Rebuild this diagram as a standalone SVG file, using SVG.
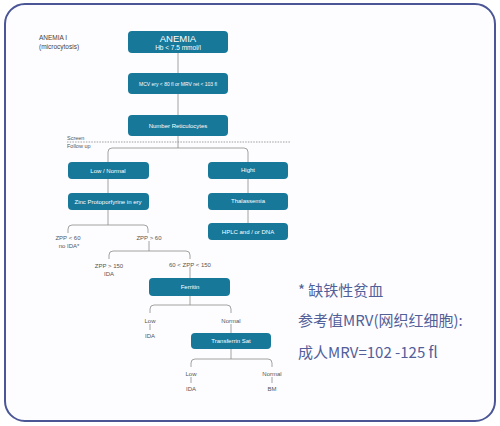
<svg xmlns="http://www.w3.org/2000/svg" width="500" height="426" viewBox="0 0 500 426">
<style>
.nd{fill:#17789a;}
.nt{font-family:"Liberation Sans",Arial,sans-serif;fill:#ffffff;font-size:6px;text-anchor:middle;}
.lb{font-family:"Liberation Sans",Arial,sans-serif;fill:#555555;font-size:6px;text-anchor:middle;}
.ln{fill:none;stroke:#8a8a8a;stroke-width:0.8;}
.cn{font-family:"Noto Sans CJK SC","Noto Sans",sans-serif;fill:#52609a;font-size:15px;}
</style>
<rect x="0" y="0" width="500" height="426" fill="#ffffff"/>
<rect x="5" y="4" width="490" height="417" rx="20" ry="20" fill="#fdfdff" stroke="#4a5696" stroke-width="2"/>

<text x="39" y="40" font-family="Liberation Sans,Arial,sans-serif" font-size="6.5" fill="#444">ANEMIA I</text>
<text x="39" y="49" font-family="Liberation Sans,Arial,sans-serif" font-size="6.5" fill="#444">(microcytosis)</text>

<g id="connectors">
<line class="ln" x1="178" y1="53" x2="178" y2="115"/>
<line x1="67" y1="142" x2="290" y2="142" stroke="#777" stroke-width="0.7" stroke-dasharray="1.5,1.2"/>
<line class="ln" x1="178" y1="136" x2="178" y2="148"/>
<path class="ln" d="M108,162 V152 Q108,148 112,148 H244 Q248,148 248,152 V162"/>
<line class="ln" x1="108" y1="179" x2="108" y2="193"/>
<line class="ln" x1="248" y1="179" x2="248" y2="223"/>
<line class="ln" x1="108" y1="210" x2="108" y2="225"/>
<path class="ln" d="M68,233 V229 Q68,225 72,225 H144 Q148,225 148,229 V233"/>
<line class="ln" x1="149" y1="241" x2="149" y2="251"/>
<path class="ln" d="M109,259 V255 Q109,251 113,251 H186 Q190,251 190,255 V259"/>
<line class="ln" x1="190" y1="267" x2="190" y2="278"/>
<line class="ln" x1="190" y1="296" x2="190" y2="305"/>
<path class="ln" d="M150,313 V309 Q150,305 154,305 H227 Q231,305 231,309 V313"/>
<line class="ln" x1="150" y1="324" x2="150" y2="330"/>
<line class="ln" x1="231" y1="324" x2="231" y2="333"/>
<line class="ln" x1="231" y1="349" x2="231" y2="359"/>
<path class="ln" d="M191,367 V363 Q191,359 195,359 H268 Q272,359 272,363 V367"/>
<line class="ln" x1="191" y1="377" x2="191" y2="383"/>
<line class="ln" x1="272" y1="377" x2="272" y2="383"/>
</g>

<g id="n-anemia">
<rect class="nd" x="128" y="31" width="100" height="22" rx="4"/>
<text class="nt" x="178" y="42" style="font-size:9.5px">ANEMIA</text>
<text class="nt" x="178" y="50" style="font-size:6.5px">Hb &lt; 7.5 mmol/l</text>
</g>
<g id="n-mcv">
<rect class="nd" x="128" y="73" width="100" height="21" rx="4"/>
<text class="nt" x="178" y="85.5" style="font-size:5px">MCV ery &lt; 80 fl or MRV ret &lt; 103 fl</text>
</g>
<g id="n-retic">
<rect class="nd" x="128" y="115" width="100" height="21" rx="4"/>
<text class="nt" x="178" y="127.5">Number Reticulocytes</text>
</g>
<text class="lb" x="67" y="140" style="text-anchor:start;font-size:5.5px">Screen</text>
<text class="lb" x="67" y="148" style="text-anchor:start;font-size:5.5px">Follow up</text>

<g id="n-low">
<rect class="nd" x="68" y="162" width="81" height="17" rx="4"/>
<text class="nt" x="108" y="172.5">Low / Normal</text>
</g>
<g id="n-high">
<rect class="nd" x="208" y="162" width="80" height="17" rx="4"/>
<text class="nt" x="248" y="172">Hight</text>
</g>
<g id="n-zinc">
<rect class="nd" x="68" y="193" width="81" height="17" rx="4"/>
<text class="nt" x="108" y="203.5">Zinc Protoporfyrine in ery</text>
</g>
<g id="n-thal">
<rect class="nd" x="208" y="193" width="80" height="17" rx="4"/>
<text class="nt" x="248" y="203">Thalassemia</text>
</g>
<g id="n-hplc">
<rect class="nd" x="208" y="223" width="80" height="17" rx="4"/>
<text class="nt" x="248" y="233.5">HPLC and / or DNA</text>
</g>

<g id="l-zpp60">
<text class="lb" x="68" y="240">ZPP &lt; 60</text>
<text class="lb" x="69" y="248">no IDA*</text>
</g>
<g id="l-zppg60">
<text class="lb" x="149" y="240">ZPP &gt; 60</text>
</g>
<g id="l-zpp150">
<text class="lb" x="109" y="268">ZPP &gt; 150</text>
<text class="lb" x="109" y="276">IDA</text>
</g>
<g id="l-zppmid">
<text class="lb" x="190" y="267">60 &lt; ZPP &lt; 150</text>
</g>
<g id="n-ferritin">
<rect class="nd" x="149" y="278" width="81" height="18" rx="4"/>
<text class="nt" x="190" y="289">Ferritin</text>
</g>
<g id="l-low1">
<text class="lb" x="150" y="323">Low</text>
<text class="lb" x="150" y="338">IDA</text>
</g>
<g id="l-normal1">
<text class="lb" x="231" y="323">Normal</text>
</g>
<g id="n-transferrin">
<rect class="nd" x="191" y="333" width="80" height="16" rx="4"/>
<text class="nt" x="231" y="343">Transferrin Sat</text>
</g>
<g id="l-low2">
<text class="lb" x="191" y="376">Low</text>
<text class="lb" x="191" y="391">IDA</text>
</g>
<g id="l-normal2">
<text class="lb" x="272" y="376">Normal</text>
<text class="lb" x="272" y="391">BM</text>
</g>

<g id="notes">
<text class="cn" x="298" y="296">* 缺铁性贫血</text>
<text class="cn" x="298" y="326">参考值MRV(网织红细胞):</text>
<text class="cn" x="298" y="358">成人MRV=102 -125 fl</text>
</g>
</svg>
